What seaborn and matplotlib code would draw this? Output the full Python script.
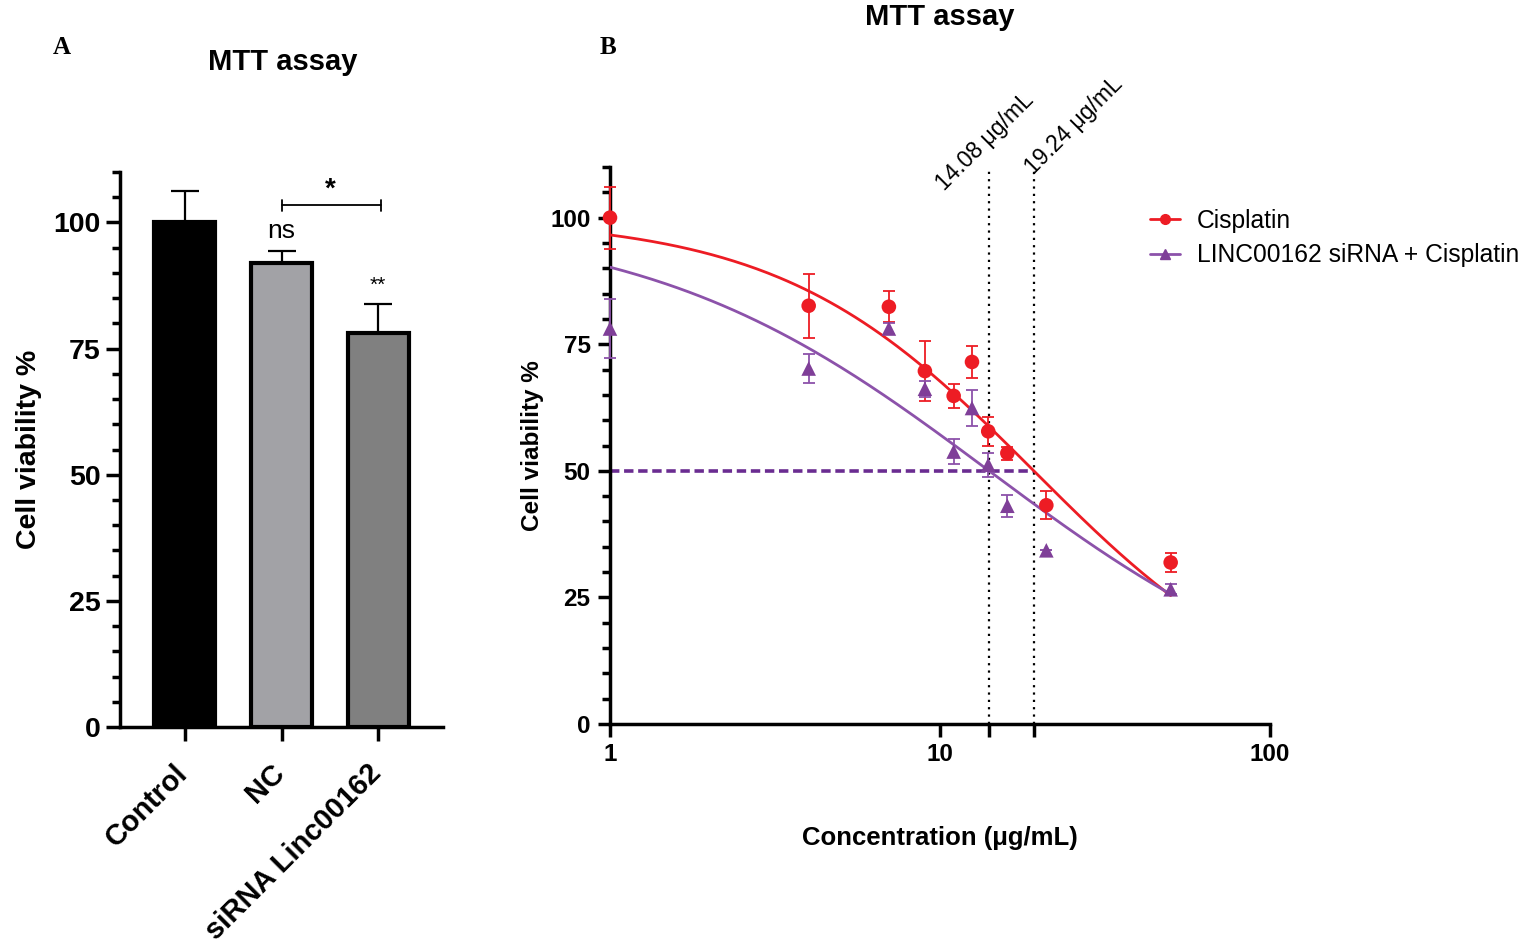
import numpy as np
import matplotlib.pyplot as plt
import matplotlib.transforms as mtransforms
import pandas as pd
import seaborn as sns
from matplotlib.lines import Line2D
from matplotlib.ticker import MultipleLocator, NullLocator

# ---------------- data ----------------
groups = ['Control', 'NC', 'siRNA Linc00162']
viability = [100.0, 91.9, 78.0]
viability_err = [6.3, 2.5, 5.9]
bar_colors = ['#000000', '#a2a2a6', '#808080']

conc = [1, 4, 7, 9, 11, 12.5, 14, 16, 21, 50]
cis_mean = [100.0, 82.6, 82.4, 69.7, 64.8, 71.5, 57.8, 53.5, 43.2, 31.9]
cis_err = [6.1, 6.3, 3.1, 5.9, 2.3, 3.2, 2.9, 1.3, 2.8, 1.9]
si_mean = [78.1, 70.2, 78.1, 66.2, 53.8, 62.4, 51.2, 43.1, 34.3, 26.6]
si_err = [5.8, 2.8, 1.0, 1.6, 2.5, 3.6, 2.4, 2.2, 0.0, 1.0]

series_names = ['Cisplatin', 'LINC00162 siRNA + Cisplatin']
# 4PL fit parameters: top, bottom, IC50, hill slope
cis_fit = (100.0, 0.0, 19.24, 1.13)
si_fit = (100.0, 0.0, 14.08, 0.84)
ic50_vals = [14.08, 19.24]
ic50_labels = ['14.08 μg/mL', '19.24 μg/mL']

red = '#ed1c24'
purple = '#7f3f98'
purple_line = '#8c52aa'

W, H = 1537, 943

sns.set_style('ticks')
plt.rcParams['font.family'] = ['Liberation Sans', 'DejaVu Sans']
plt.rcParams['axes.linewidth'] = 2.5
for k in ['text.color', 'axes.labelcolor', 'xtick.color', 'ytick.color', 'axes.edgecolor']:
    plt.rcParams[k] = 'black'

fig = plt.figure(figsize=(W / 100, H / 100), dpi=100)
axA = fig.add_axes([120 / W, 1 - 727 / H, 323 / W, 555 / H])
axB = fig.add_axes([610 / W, 1 - 724 / H, 660 / W, 557 / H])

#------------------------------------------------------
#                  Panel A - bars
#------------------------------------------------------
dfA = pd.DataFrame({'group': groups, 'viability': viability})
sns.barplot(data=dfA, x='group', y='viability', hue='group', palette=bar_colors,
            legend=False, width=0.63, edgecolor='black', linewidth=3,
            saturation=1, ax=axA)
axA.errorbar(range(len(groups)), viability,
             yerr=[np.zeros(len(groups)), viability_err],
             fmt='none', ecolor='black', elinewidth=1.6, capsize=10, capthick=1.6,
             zorder=1)

# significance marks
axA.plot([1.0, 2.03], [103.4, 103.4], color='black', lw=1.3)
axA.plot([1.0, 1.0], [102.3, 104.5], color='black', lw=1.3)
axA.plot([2.03, 2.03], [102.3, 104.5], color='black', lw=1.3)
axA.text(1.5, 106.5, '*', ha='center', va='center', fontsize=20, fontweight='bold')
axA.text(1.0, 98.3, 'ns', ha='center', va='center', fontsize=19)
axA.text(2.0, 87.5, '**', ha='center', va='center', fontsize=15)

axA.set_ylim(0, 110)
axA.set_xlim(-0.67, 2.67)
axA.set_yticks([0, 25, 50, 75, 100])
axA.yaxis.set_minor_locator(MultipleLocator(5))
axA.tick_params(axis='y', which='major', length=10, width=2.5, pad=4)
axA.tick_params(axis='x', which='major', length=10, width=2.5, pad=13)
axA.tick_params(axis='y', which='minor', length=6, width=2.5)
axA.set_xticks(range(len(groups)))
axA.set_xticklabels(groups, rotation=45, ha='right', rotation_mode='anchor',
                    fontsize=21, fontweight='bold')
shift = mtransforms.ScaledTranslation(-11 / 100, 0, fig.dpi_scale_trans)
for lab in axA.get_xticklabels():
    lab.set_transform(lab.get_transform() + shift)
for lab in axA.get_yticklabels():
    lab.set_fontsize(20.5)
    lab.set_fontweight('bold')
axA.set_xlabel('')
axA.set_ylabel('Cell viability %', fontsize=20.5, fontweight='bold')
axA.yaxis.set_label_coords(-0.24, 0.5)
sns.despine(ax=axA)

#------------------------------------------------------
#                  Panel B - dose response
#------------------------------------------------------
def logistic(x, p):
    top, bottom, ic50, hill = p
    return bottom + (top - bottom) / (1 + (x / ic50) ** hill)

xs = np.logspace(0, np.log10(max(conc)), 200)
dfFit = pd.DataFrame({
    'conc': np.concatenate([xs, xs]),
    'viability': np.concatenate([logistic(xs, cis_fit), logistic(xs, si_fit)]),
    'treat': [series_names[0]] * len(xs) + [series_names[1]] * len(xs),
})
dfPts = pd.DataFrame({
    'conc': conc + conc,
    'viability': cis_mean + si_mean,
    'treat': [series_names[0]] * len(conc) + [series_names[1]] * len(conc),
})

pal = {series_names[0]: red, series_names[1]: purple}
line_pal = {series_names[0]: red, series_names[1]: purple_line}

# IC50 guides
axB.plot([1, max(ic50_vals)], [50, 50], color='#6a2c91', lw=2.6,
         linestyle=(0, (2.6, 1.3)), zorder=1)
axB.vlines(ic50_vals, 0, 110, color='black', lw=1.6, linestyle=(0, (1, 2.3)), zorder=1)

sns.lineplot(data=dfFit, x='conc', y='viability', hue='treat', palette=line_pal,
             lw=2, legend=False, ax=axB, zorder=3)
axB.errorbar(conc, cis_mean, yerr=cis_err, fmt='none', ecolor=red, elinewidth=1.3,
             capsize=4.5, capthick=1.3, zorder=4, clip_on=False)
axB.errorbar(conc, si_mean, yerr=si_err, fmt='none', ecolor=purple_line, elinewidth=1.3,
             capsize=4.5, capthick=1.3, zorder=4, clip_on=False)
sns.scatterplot(data=dfPts, x='conc', y='viability', hue='treat', style='treat',
                palette=pal, markers={series_names[0]: 'o', series_names[1]: '^'},
                s=110, linewidth=0, legend=False, ax=axB, zorder=5, clip_on=False)

axB.set_xscale('log')
axB.set_xlim(1, 100)
axB.set_ylim(0, 110)
axB.set_xticks([1, 10] + ic50_vals + [100])
axB.set_xticklabels(['1', '10', '', '', '100'])
axB.xaxis.set_minor_locator(NullLocator())
axB.set_yticks([0, 25, 50, 75, 100])
axB.yaxis.set_minor_locator(MultipleLocator(5))
for lab in axB.get_xticklabels() + axB.get_yticklabels():
    lab.set_fontsize(17.5)
    lab.set_fontweight('bold')
axB.tick_params(axis='both', which='major', length=9, width=2.5, pad=5)
axB.tick_params(axis='y', which='minor', length=6, width=2.5)
axB.set_xlabel('Concentration (μg/mL)', fontsize=18.5, fontweight='bold')
axB.xaxis.set_label_coords(0.5, -0.183)
axB.set_ylabel('Cell viability %', fontsize=17.5, fontweight='bold')
axB.yaxis.set_label_coords(-0.1, 0.5)
sns.despine(ax=axB)

offsets = [(-4, 25), (40, 41)]
for xv, txt, off in zip(ic50_vals, ic50_labels, offsets):
    axB.annotate(txt, xy=(xv, 110), xycoords='data', xytext=off,
                 textcoords='offset pixels', rotation=45, ha='center', va='center',
                 fontsize=16.5, annotation_clip=False)

handles = [
    Line2D([], [], color=red, lw=2, marker='o', ms=7),
    Line2D([], [], color=purple_line, lw=2, marker='^', ms=7, mfc=purple, mec=purple),
]
fig.legend(handles, series_names, loc='upper left', frameon=False, fontsize=17.7,
           handlelength=1.2, handletextpad=0.7, labelspacing=0.42,
           borderpad=0, borderaxespad=0,
           bbox_to_anchor=(1150 / W, 1 - 209 / H), bbox_transform=fig.transFigure)

# titles and panel letters
fig.text(283 / W, 1 - 62 / H, 'MTT assay', ha='center', va='center',
         fontsize=21, fontweight='bold')
fig.text(940 / W, 1 - 17 / H, 'MTT assay', ha='center', va='center',
         fontsize=21, fontweight='bold')
fig.text(62 / W, 1 - 48 / H, 'A', ha='center', va='center', fontsize=18,
         fontweight='bold', family=['Liberation Serif', 'DejaVu Serif'])
fig.text(608 / W, 1 - 48 / H, 'B', ha='center', va='center', fontsize=18,
         fontweight='bold', family=['Liberation Serif', 'DejaVu Serif'])

fig.savefig('out.png', dpi=100)
